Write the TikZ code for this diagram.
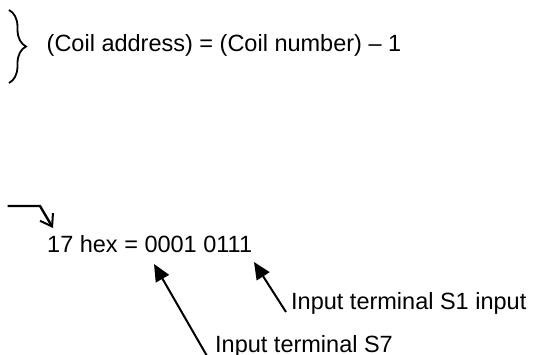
\documentclass[tikz,border=0pt]{standalone}
\usepackage{fontspec}
\setmainfont{Liberation Sans}
\usetikzlibrary{arrows.meta,decorations.pathreplacing}
\begin{document}
\begin{tikzpicture}[x=1pt,y=-1pt,
  lbl/.style={anchor=base west,inner sep=0pt,font=\fontsize{23.5}{28}\selectfont},
  ptr/.style={line width=2pt,-{Triangle[length=17pt,width=15pt]}},
  bent/.style={line width=2.4pt,-{Straight Barb[length=11pt,width=15pt,line width=2pt]}},
  bracestyle/.style={line width=1.8pt,decorate,decoration={brace,amplitude=17pt,aspect=0.5}}]
\useasboundingbox (0,0) rectangle (536,354);
% texts
\node[lbl] (eq) at (46.5,51) {(Coil address) = (Coil number) – 1};
\node[lbl] (hex) at (47,252) {17 hex = 0001 0111};
\node[lbl] (s1) at (291,309) {Input terminal S1 input};
\node[lbl] (s7) at (215,352) {Input terminal S7};
% brace
\coordinate (bt) at (9,10);
\coordinate (bb) at (9,83);
\draw[bracestyle] (bt) -- (bb);
% bent arrow
\coordinate (ba) at (7.5,206);
\coordinate (bc) at (40,206);
\coordinate (btip) at (53,228);
\draw[bent] (ba) -- (bc) -- (btip);
% pointers
\coordinate (p1tail) at (286,312);
\coordinate (p1tip) at (254,262);
\draw[ptr] (p1tail) -- (p1tip);
\coordinate (p2tail) at (207,356);
\coordinate (p2tip) at (154,264);
\draw[ptr] (p2tail) -- (p2tip);
\end{tikzpicture}
\end{document}
